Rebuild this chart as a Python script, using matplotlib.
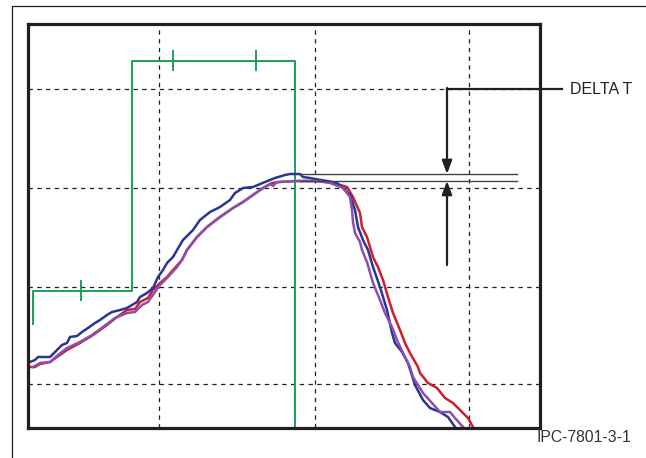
import matplotlib.pyplot as plt
from matplotlib.lines import Line2D

# profile curves (time, temperature in chart units)
blue_t = [2, 7, 10, 22, 27, 34, 39, 42, 49, 54, 60, 67, 72, 79, 84, 92, 99, 104, 109, 112,
          119, 125, 130, 135, 139, 145, 152, 155, 165, 172, 182, 192, 202, 207, 215, 225,
          237, 247, 257, 262, 269, 272, 275, 282, 287, 299, 309, 315, 322, 327, 330, 335,
          340, 345, 352, 359, 364, 367, 374, 380, 387, 395, 402, 412, 420, 427]
blue_v = [66, 68, 71, 71, 76, 83, 85, 91, 92, 96, 100, 105, 108, 113, 116, 118, 120, 123, 126, 131,
          135, 140, 151, 158, 165, 171, 183, 188, 198, 208, 216, 221, 228, 235, 240, 241,
          246, 250, 253, 254, 254, 254, 251, 250, 249, 247, 245, 240, 233, 218, 201, 188,
          178, 161, 141, 118, 95, 85, 76, 65, 43, 28, 20, 16, 11, 1]

red_t = [2, 7, 12, 22, 29, 39, 52, 65, 79, 89, 99, 107, 112, 120, 125, 132, 139, 145, 154, 159,
         169, 179, 192, 205, 215, 225, 235, 244, 252, 269, 289, 302, 312, 319, 325, 332, 334,
         339, 345, 350, 355, 360, 365, 372, 377, 382, 390, 392, 400, 409, 417, 425, 434, 440, 445]
red_v = [61, 61, 64, 66, 71, 78, 85, 93, 103, 111, 118, 119, 126, 130, 138, 145, 151, 158, 168, 178,
         191, 201, 211, 220, 226, 233, 240, 245, 246, 247, 247, 246, 243, 241, 231, 215, 201,
         191, 171, 161, 148, 131, 115, 98, 85, 75, 61, 55, 45, 40, 30, 25, 16, 10, 1]

purple_t = [5, 12, 22, 30, 39, 52, 64, 75, 87, 99, 107, 114, 120, 127, 132, 139, 149, 154, 159,
            169, 179, 192, 205, 215, 225, 235, 242, 245, 249, 269, 289, 302, 315, 322, 324, 325,
            327, 332, 334, 339, 345, 352, 357, 364, 369, 375, 382, 385, 395, 404, 412, 422, 427, 435]
purple_v = [61, 65, 66, 73, 80, 86, 93, 101, 110, 115, 116, 123, 126, 136, 143, 150, 161, 168, 178,
            191, 201, 211, 220, 226, 233, 240, 244, 242, 246, 247, 247, 245, 240, 231, 218, 206,
            195, 186, 178, 166, 145, 128, 115, 101, 88, 75, 61, 51, 35, 25, 16, 16, 10, 1]

# conveyor zone setpoints (green step line) and its tick marks
zone_t = [5, 5, 104, 104, 267, 267]
zone_v = [104, 137, 137, 367, 367, 0]
zone_ticks = [(53, 137), (145, 367), (228, 367)]

grid_t = [131, 287, 441]
grid_v = [44, 141, 240, 339]

peak_hi = 254
peak_lo = 247

fig = plt.figure(figsize=(6.46, 4.58), dpi=100)
ax = fig.add_axes([28 / 646, 30 / 458, 512 / 646, 404 / 458])
ax.set_xlim(0, 512)
ax.set_ylim(0, 404)
ax.set_xticks([])
ax.set_yticks([])
for s in ax.spines.values():
    s.set_linewidth(2.3)
    s.set_color('#231f20')
    s.set_zorder(10)

for g in grid_t:
    ax.axvline(g, color='#231f20', lw=0.9, ls=(0, (3.5, 3.5)), zorder=1)
for g in grid_v:
    ax.axhline(g, color='#231f20', lw=0.9, ls=(0, (3.5, 3.5)), zorder=1)

ax.plot(zone_t, zone_v, color='#18a05a', lw=1.4, zorder=2)
for tx, ty in zone_ticks:
    ax.plot([tx, tx], [ty - 9, ty + 10], color='#18a05a', lw=1.4, zorder=2)

ax.plot(red_t, red_v, color='#cc1f2e', lw=1.8, zorder=3)
ax.plot(blue_t, blue_v, color='#2b3592', lw=1.8, zorder=4)
ax.plot(purple_t, purple_v, color='#8a4fb0', lw=1.8, zorder=5)

# delta T marker
ax.plot([272, 489], [peak_hi, peak_hi], color='#444444', lw=1.0, zorder=6)
ax.plot([272, 489], [peak_lo, peak_lo], color='#444444', lw=1.0, zorder=6)
ax.plot([419, 534], [339, 339], color='#231f20', lw=1.6, clip_on=False, zorder=6)
ax.annotate('', xy=(419, peak_hi), xytext=(419, 340),
            arrowprops=dict(arrowstyle='-|>,head_length=0.8,head_width=0.3',
                            color='#231f20', lw=1.6, shrinkA=0, shrinkB=0))
ax.annotate('', xy=(419, peak_lo), xytext=(419, 163),
            arrowprops=dict(arrowstyle='-|>,head_length=0.8,head_width=0.3',
                            color='#231f20', lw=1.6, shrinkA=0, shrinkB=0))
fig.text(570 / 646, 1 - 89 / 458, 'DELTA T', fontsize=11.5, color='#231f20',
         family='Liberation Sans', ha='left', va='center')

fig.text(537 / 646, 1 - 438 / 458, 'IPC-7801-3-1', fontsize=11.3, color='#333333',
         family='Liberation Sans', ha='left', va='center')

# outer frame (top and left edges)
fig.add_artist(Line2D([12 / 646, 12 / 646, 1], [0, 1 - 6 / 458, 1 - 6 / 458],
                      color='#231f20', lw=0.9))

fig.savefig('out.png', dpi=100)
